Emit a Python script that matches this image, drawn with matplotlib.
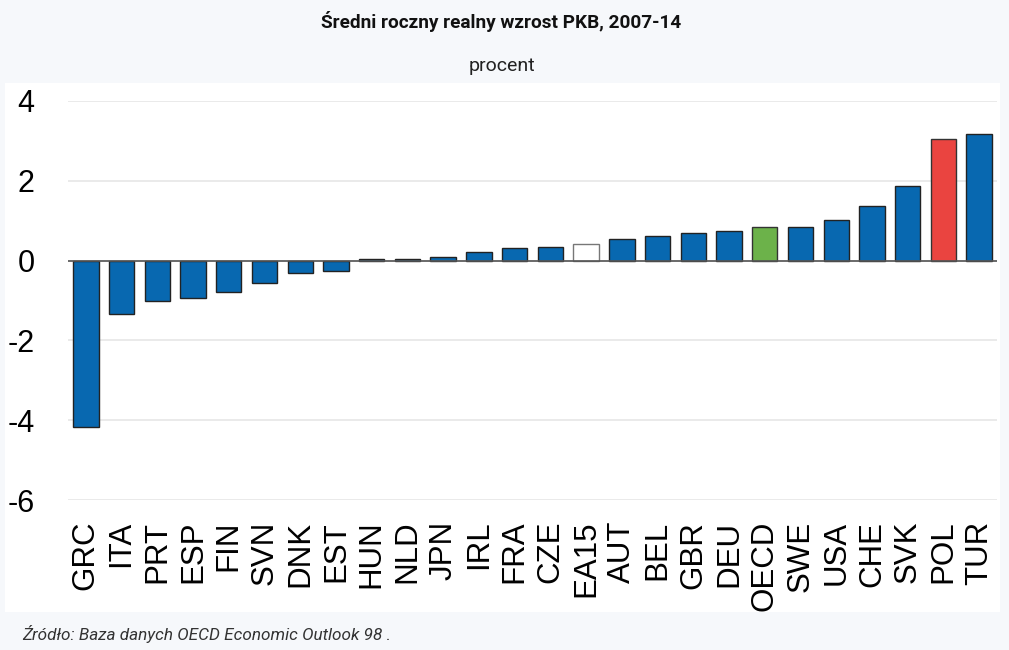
import matplotlib
matplotlib.use("Agg")
import matplotlib.pyplot as plt
from matplotlib.patches import Rectangle

# Dados
paises = ["GRC", "ITA", "PRT", "ESP", "FIN", "SVN", "DNK", "EST", "HUN", "NLD",
          "JPN", "IRL", "FRA", "CZE", "EA15", "AUT", "BEL", "GBR", "DEU", "OECD",
          "SWE", "USA", "CHE", "SVK", "POL", "TUR"]
valores = [-4.17, -1.33, -1.00, -0.93, -0.78, -0.55, -0.30, -0.25, 0.05, 0.04,
           0.10, 0.22, 0.32, 0.35, 0.41, 0.54, 0.62, 0.70, 0.73, 0.85,
           0.85, 1.02, 1.37, 1.87, 3.04, 3.18]
yticks = [4, 2, 0, -2, -4, -6]

azul, vermelho, verde = "#0868b0", "#ea4440", "#6cb24a"
cores = []
bordas = []
for p in paises:
    if p == "POL":
        cores.append(vermelho); bordas.append("#333333")
    elif p == "OECD":
        cores.append(verde); bordas.append("#333333")
    elif p == "EA15":
        cores.append("white"); bordas.append("#777777")
    else:
        cores.append(azul); bordas.append("#222222")

fig = plt.figure(figsize=(10.09, 6.5), dpi=100, facecolor="#f6f8fb")
# painel branco do gráfico
fig.patches.append(Rectangle((5 / 1009, 1 - 612 / 650), 995 / 1009, 529 / 650,
                             transform=fig.transFigure, facecolor="white",
                             edgecolor="none", zorder=-5))

ax = fig.add_axes([68 / 1009, 1 - 500 / 650, 929 / 1009, 399 / 650])
ax.set_zorder(2)
ax.set_facecolor("white")
x = range(len(paises))
ax.bar(x, valores, width=0.71, color=cores, edgecolor=bordas, linewidth=1.0, zorder=3)
ax.axhline(0, color="#555555", linewidth=1.2, zorder=4)

ax.set_xlim(-0.5, len(paises) - 0.5)
ax.set_ylim(-6, 4)
ax.set_yticks(yticks)
ax.set_yticklabels([str(v) for v in yticks], fontsize=22, family="Liberation Sans")
ax.yaxis.grid(True, color="#e6e6e6", linewidth=1.2, zorder=0)
ax.set_axisbelow(True)
ax.tick_params(axis="y", length=0, pad=24)
ax.tick_params(axis="x", length=0, pad=15)
ax.set_xticks(list(x))
ax.set_xticklabels(paises, rotation=90, fontsize=22.5, family="Liberation Sans", va="top")
for s in ax.spines.values():
    s.set_visible(False)

fig.text(0.497, 1 - 22 / 650, "Średni roczny realny wzrost PKB, 2007-14", ha="center",
         va="center", fontsize=13.7, fontweight="bold", family="Roboto", color="#111111")
fig.text(0.497, 1 - 66 / 650, "procent", ha="center", va="center", fontsize=14,
         family="Roboto", color="#222222")
fig.text(22 / 1009, 1 - 634 / 650, "Źródło: Baza danych OECD Economic Outlook 98 .",
         ha="left", va="center", fontsize=12.3, style="italic", family="Roboto",
         color="#333333")

fig.savefig("out.png", dpi=100, facecolor=fig.get_facecolor())
